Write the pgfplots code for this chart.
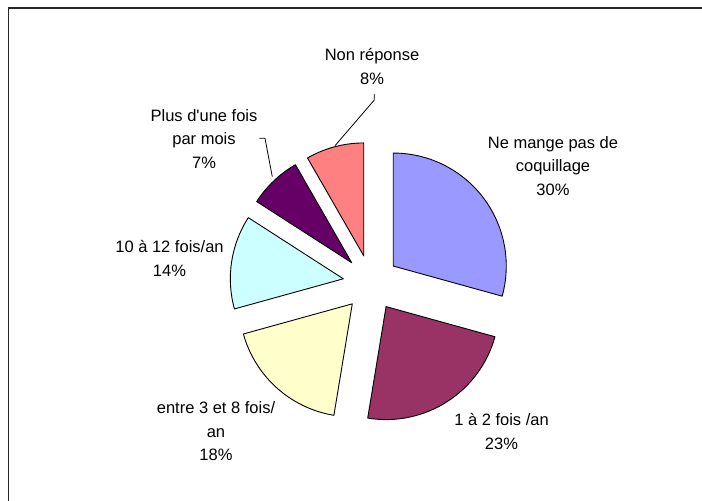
\documentclass[border=0pt]{standalone}
\usepackage{fontspec}
\setmainfont{Liberation Sans}
\usepackage{pgfplots}
\usepackage{pgfplotstable}
\pgfplotsset{compat=1.18}

\definecolor{sl0}{HTML}{9999FF}
\definecolor{sl1}{HTML}{993366}
\definecolor{sl2}{HTML}{FFFFCC}
\definecolor{sl3}{HTML}{CCFFFF}
\definecolor{sl4}{HTML}{660066}
\definecolor{sl5}{HTML}{FF8080}

% shares (clockwise from 12 o'clock)
\pgfplotstableread{
share
29.3
23.3
18.1
13.4
7.6
8.3
}\piedata

\newcommand\cx{371}
\newcommand\cy{218}
\newcommand\rad{113}
\newcommand\expl{28}

\begin{document}
\begin{tikzpicture}
\def\acc{0}
\pgfplotsforeachungrouped \i in {0,...,5}{%
  \pgfplotstablegetelem{\i}{share}\of\piedata
  \pgfmathsetmacro\sa{90-3.6*\acc}%
  \pgfmathsetmacro\acc{\acc+\pgfplotsretval}%
  \pgfmathsetmacro\ea{90-3.6*\acc}%
  \pgfmathsetmacro\md{(\sa+\ea)/2}%
  \expandafter\let\csname sa\i\endcsname\sa
  \expandafter\let\csname ea\i\endcsname\ea
  \expandafter\let\csname md\i\endcsname\md
}
\begin{axis}[
  scale only axis, width=702pt, height=501pt,
  xmin=0, xmax=702, ymin=0, ymax=501,
  hide axis, clip=false,
]
% frame
\draw[line width=1.3pt, black!85] (axis cs:8.5,-20) -- (axis cs:8.5,493) -- (axis cs:730,493);

\pgfplotsinvokeforeach{0,...,5}{
  \draw[fill=sl#1, line width=0.9pt, line join=round]
    (axis cs:\cx,\cy) ++(\csname md#1\endcsname:\expl pt)
    -- ++(\csname sa#1\endcsname:\rad pt)
    arc[start angle=\csname sa#1\endcsname, end angle=\csname ea#1\endcsname, radius=\rad pt]
    -- cycle;
}

\tikzset{lbl/.style={align=center, font=\fontsize{16.5}{23.5}\selectfont}}
\node[lbl] at (axis cs:553,335) {Ne mange pas de\\coquillage\\30\%};
\node[lbl] at (axis cs:501.5,69.7) {1 à 2 fois /an\\23\%};
\node[lbl] at (axis cs:216,69.5) {entre 3 et 8 fois/\\an\\18\%};
\node[lbl] at (axis cs:169.5,242.7) {10 à 12 fois/an\\14\%};
\node[lbl] at (axis cs:204,362) {Plus d\textquotesingle une fois\\par mois\\7\%};
\node[lbl] at (axis cs:372,434.5) {Non réponse\\8\%};

\draw[line width=0.8pt] (axis cs:374.3,407) -- (axis cs:374.3,401) -- (axis cs:335,355.3);
\draw[line width=0.8pt] (axis cs:259.3,362.7) -- (axis cs:265,362.7) -- (axis cs:272.3,324.3);
\end{axis}
\pgfresetboundingbox
\useasboundingbox (0,0) rectangle (702pt,501pt);
\end{tikzpicture}
\end{document}
